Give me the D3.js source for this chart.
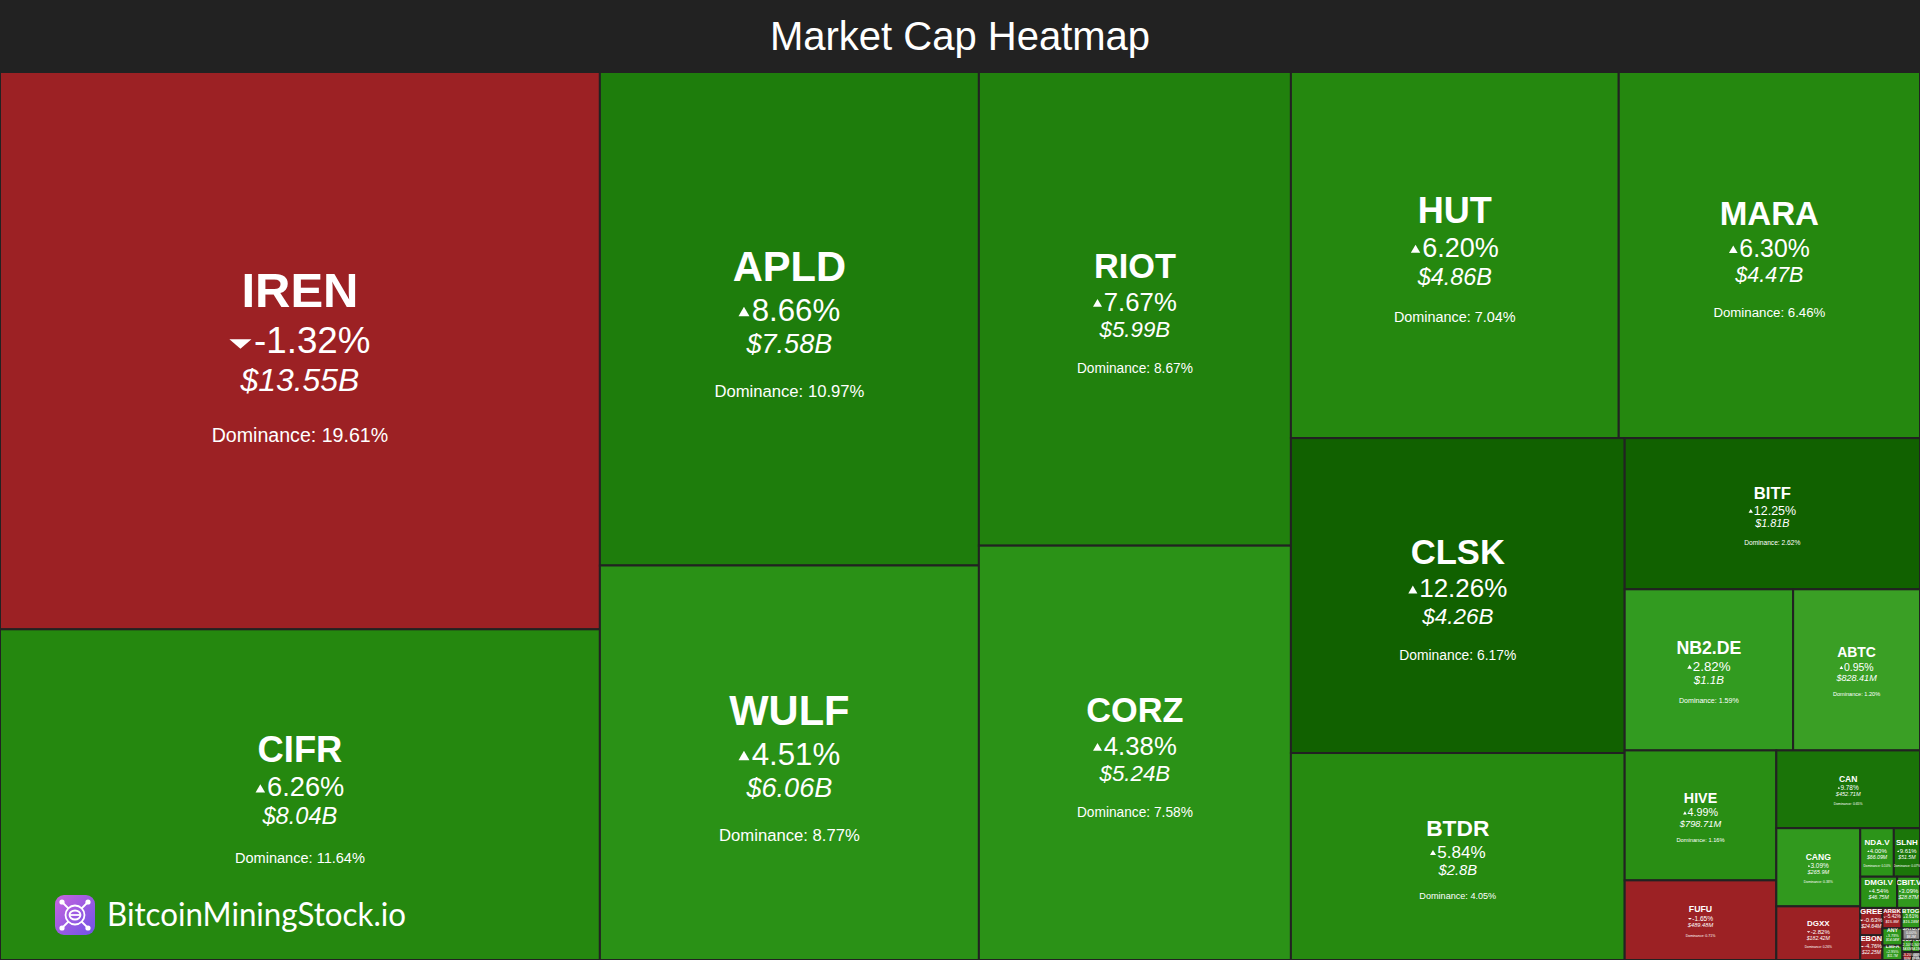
<!DOCTYPE html>
<html><head><meta charset="utf-8">
<script src="https://cdn.jsdelivr.net/npm/d3@7"></script>
<style>
html,body{margin:0;padding:0;background:#222;overflow:hidden}
svg{display:block}
text{font-family:"Liberation Sans",Arial,Helvetica,sans-serif;fill:#fff}
</style></head><body>
<svg id="chart" width="1920" height="960"></svg>
<script>
// ---- data ----
const tickers = ["IREN","CIFR","APLD","WULF","RIOT","CORZ","HUT","MARA","CLSK","BTDR","BITF","NB2.DE","ABTC","HIVE","FUFU","CAN","CANG","DGXX","NDA.V","SLNH","DMGI.V","CBIT.V","GREE","EBON","ARBK","BTOG","ANY","LMFA","SATO.V","SOS","BTCM","GRYP","DGHI"];
const marketCapsM = [13550,8040,7580,6060,5990,5240,4864,4470,4260,2800,1810,1100,828.41,798.71,489.48,452.71,265.9,182.42,66.09,51.5,46.75,28.87,24.64,22.25,15.8,15.18,14.04,11.7,8.2,4.6,4.1,3.0,2.6];
const changes = [-1.32,6.26,8.66,4.51,7.67,4.38,6.20,6.30,12.26,5.84,12.25,2.82,0.95,4.99,-1.65,9.78,3.09,-2.82,4.00,9.61,4.54,3.09,-0.63,-4.76,-5.42,3.61,3.78,2.95,0,2.10,1.50,-3.20,0];
const dominance = [19.61,11.64,10.97,8.77,8.67,7.58,7.04,6.46,6.17,4.05,2.62,1.59,1.20,1.16,0.71,0.65,0.38,0.26,0.10,0.07,0.07,0.04,0.04,0.03,0.02,0.02,0.02,0.02,0.01,0.01,0.01,0.00,0.00];
const titleText = "Market Cap Heatmap";
const brandText = "BitcoinMiningStock.io";

// ---- setup ----
const W = 1920, H = 960, headerH = 72;
const svg = d3.select("#chart");
svg.append("rect").attr("width", W).attr("height", H).attr("fill", "#222");
svg.append("text").attr("x", W/2).attr("y", 50).attr("text-anchor", "middle")
  .attr("font-size", 40).text(titleText);

const root = d3.hierarchy({children: tickers.map((t,i)=>({name:t, cap:marketCapsM[i], chg:changes[i], dom:dominance[i]}))})
  .sum(d => d.cap || 0).sort((a,b) => b.value - a.value);
d3.treemap().tile(d3.treemapSquarify.ratio(1)).size([W, H - headerH]).round(false)(root);
const leaves = root.leaves();

const green = d3.scaleLinear()
  .domain([0, 0.95, 2.82, 4.5, 6.2, 8.66, 12.26])
  .range(["#3ca227","#3a9f25","#329b20","#2a9116","#25880f","#1e7d0c","#116100"])
  .clamp(true);
const color = c => c < 0 ? "#9c2124" : (c === 0 ? "#8c8c8c" : green(c));

const fmtCap = v => v >= 1000 ? "$" + (+(v/1000).toFixed(2)) + "B" : "$" + (+v.toFixed(2)) + "M";

const defs = svg.append("defs");
const g = svg.append("g").attr("transform", `translate(0,${headerH})`);

g.selectAll("rect.cell").data(leaves).join("rect").attr("class","cell")
  .attr("x", d => d.x0).attr("y", d => d.y0)
  .attr("width", d => d.x1 - d.x0).attr("height", d => d.y1 - d.y0)
  .attr("fill", d => color(d.data.chg))
  .attr("stroke", "#222").attr("stroke-width", 2);

leaves.forEach((d,i) => {
  defs.append("clipPath").attr("id", "clip" + i).append("rect")
    .attr("x", d.x0).attr("y", d.y0).attr("width", d.x1 - d.x0).attr("height", d.y1 - d.y0);
});

leaves.forEach((d,i) => {
  const w = d.x1 - d.x0, h = d.y1 - d.y0;
  const cx = (d.x0 + d.x1)/2, cy = (d.y0 + d.y1)/2;
  let T = Math.max(8, Math.min(49, Math.min(w,h) * 0.11));
  if (h < 30) T = Math.max(5, Math.min(T, h * 0.3));
  const cg = g.append("g").attr("clip-path", `url(#clip${i})`);
  cg.append("text").attr("x", cx).attr("y", cy - 0.9*T).attr("text-anchor","middle")
    .attr("font-size", T).attr("font-weight","bold").text(d.data.name);

  // change line
  const C = 0.75*T;
  const chg = d.data.chg;
  const label = chg.toFixed(2) + "%";
  const by = cy + 0.05*T;
  const ct = cg.append("text").attr("y", by).attr("font-size", C).text(label);
  const tw = ct.node().getComputedTextLength();
  let triW = 0, gap = 0.07*C;
  if (chg > 0) triW = 0.35*C; else if (chg < 0) triW = 0.6*C; else gap = 0;
  const left = cx - (triW + gap + tw)/2;
  ct.attr("x", left + triW + gap);
  if (chg > 0) {
    const th = 0.3*C, bot = by - 0.15*C;
    cg.append("path").attr("fill","#fff")
      .attr("d", `M${left},${bot} L${left+triW},${bot} L${left+triW/2},${bot-th} Z`);
  } else if (chg < 0) {
    const th = 0.26*C, bot = by - 0.12*C;
    cg.append("path").attr("fill","#fff")
      .attr("d", `M${left},${bot-th} L${left+triW},${bot-th} L${left+triW/2},${bot} Z`);
  }

  cg.append("text").attr("x", cx).attr("y", cy + 0.82*T).attr("text-anchor","middle")
    .attr("font-size", 0.65*T).attr("font-style","italic").text(fmtCap(d.data.cap));

  if (h >= 40) {
    cg.append("text").attr("x", cx).attr("y", cy + 1.87*T).attr("text-anchor","middle")
      .attr("font-size", 0.4*T).text("Dominance: " + d.data.dom.toFixed(2) + "%");
  }
});

// ---- brand logo ----
const lg = svg.append("g").attr("transform", "translate(55,895)");
const grad = defs.append("linearGradient").attr("id","logoGrad")
  .attr("x1","0").attr("y1","0").attr("x2","1").attr("y2","1");
grad.append("stop").attr("offset","0").attr("stop-color","#c865de");
grad.append("stop").attr("offset","1").attr("stop-color","#6f52e6");
lg.append("rect").attr("width",40).attr("height",40).attr("rx",9).attr("fill","url(#logoGrad)");
const ic = lg.append("g").attr("transform","translate(20,20)").attr("stroke","#fff").attr("fill","none").attr("stroke-width",1.8);
ic.append("circle").attr("r",9.5);
ic.append("ellipse").attr("rx",5.5).attr("ry",4.5);
ic.append("line").attr("x1",-5.5).attr("y1",0).attr("x2",5.5).attr("y2",0);
[[-1,-1],[1,-1],[-1,1],[1,1]].forEach(([sx,sy]) => {
  ic.append("line").attr("x1",sx*6.5).attr("y1",sy*6.5).attr("x2",sx*12).attr("y2",sy*12);
  ic.append("circle").attr("cx",sx*13).attr("cy",sy*13).attr("r",2.6).attr("fill","#fff").attr("stroke","none");
});
svg.append("text").attr("x",107).attr("y",926).attr("font-size",32)
  .style("font-family","Lato, 'Noto Sans', sans-serif").attr("font-weight",400)
  .attr("textLength",299).attr("lengthAdjust","spacingAndGlyphs").text(brandText);
</script>
</body></html>
